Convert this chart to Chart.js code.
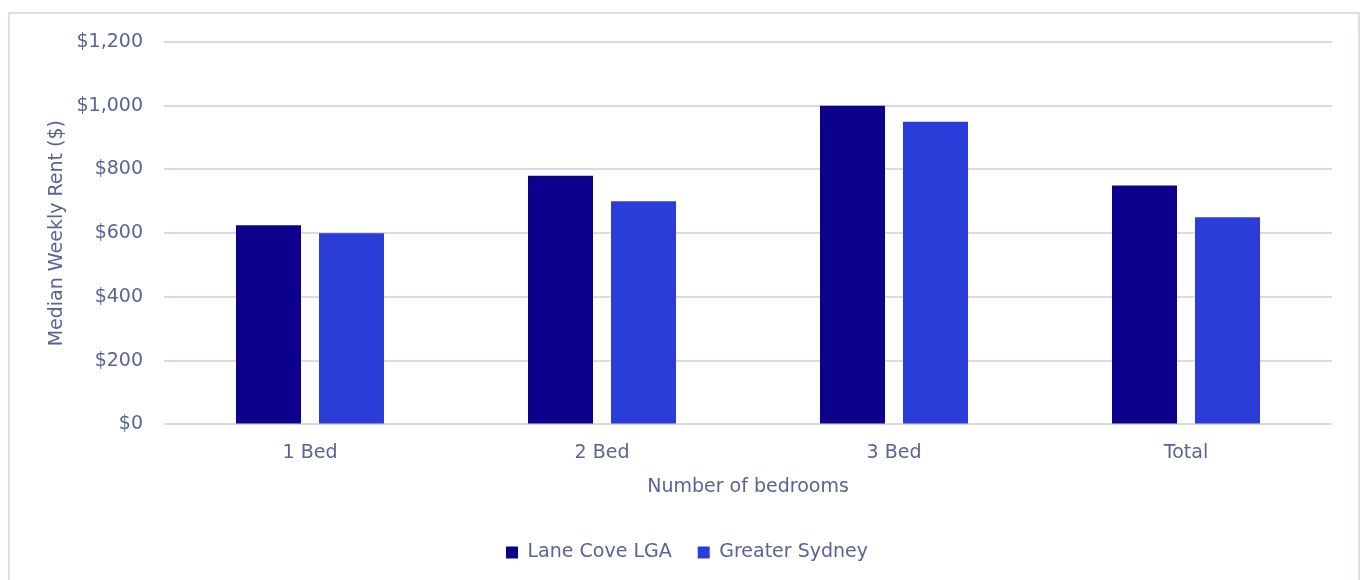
<!DOCTYPE html>
<html>
<head>
<meta charset="utf-8">
<script src="https://cdn.jsdelivr.net/npm/chart.js@4"></script>
<style>
  html, body { margin:0; padding:0; background:#fff; }
  body { width:1362px; height:580px; position:relative; overflow:hidden; }
  #frame { position:absolute; left:8px; top:12px; width:1352px; height:600px; border:2px solid #dcdcec; box-sizing:border-box; }
  #wrap { position:absolute; left:0; top:0; width:1362px; height:580px; }
</style>
</head>
<body>
<div id="frame"></div>
<div id="wrap"><canvas id="c" width="1362" height="580"></canvas></div>
<script>
const categories = ["1 Bed", "2 Bed", "3 Bed", "Total"];
const laneCove = [625, 780, 1000, 750];
const greaterSydney = [600, 700, 950, 650];
const seriesNames = ["Lane Cove LGA", "Greater Sydney"];
const yTicks = [0, 200, 400, 600, 800, 1000, 1200];

const textColor = "#5a6494";
const fontFamily = "'DejaVu Sans', sans-serif";
const fs = 19;

new Chart(document.getElementById("c"), {
  type: "bar",
  data: {
    labels: categories,
    datasets: [
      { label: seriesNames[0], data: laneCove, backgroundColor: "#0c008c", categoryPercentage: 0.5685, barPercentage: 0.783 },
      { label: seriesNames[1], data: greaterSydney, backgroundColor: "#2b3dd9", categoryPercentage: 0.5685, barPercentage: 0.783 }
    ]
  },
  options: {
    responsive: false,
    animation: false,
    devicePixelRatio: 1,
    layout: { padding: { left: 42, right: 30, top: 42, bottom: 8 } },
    plugins: {
      legend: {
        position: "bottom",
        labels: { color: textColor, font: { family: fontFamily, size: fs }, boxWidth: 12, boxHeight: 12, padding: 26 }
      },
      tooltip: { enabled: false }
    },
    scales: {
      x: {
        grid: { display: false, drawTicks: false },
        border: { display: false },
        ticks: { color: textColor, font: { family: fontFamily, size: fs }, padding: 17 },
        title: { display: true, text: "Number of bedrooms", color: textColor, font: { family: fontFamily, size: fs }, padding: { top: -6, bottom: 19 } }
      },
      y: {
        min: 0, max: 1200,
        afterBuildTicks: (s) => { s.ticks = yTicks.map(v => ({ value: v })); },
        afterFit: (s) => { s.width = 164 - 42; },
        grid: { color: "#d9d9e8", lineWidth: 2, drawTicks: false },
        border: { display: false },
        ticks: { color: textColor, font: { family: fontFamily, size: fs }, padding: 21,
          callback: (v) => "$" + v.toLocaleString("en-US") },
        title: { display: true, text: "Median Weekly Rent ($)", color: textColor, font: { family: fontFamily, size: fs }, padding: { top: 4, bottom: 4 } }
      }
    }
  }
});
</script>
</body>
</html>
